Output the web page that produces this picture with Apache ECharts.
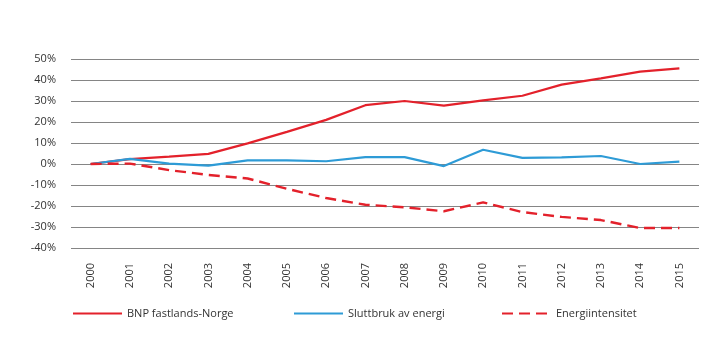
<!DOCTYPE html>
<html>
<head>
<meta charset="utf-8">
<script src="https://cdn.jsdelivr.net/npm/echarts@6/dist/echarts.min.js"></script>
<style>html,body{margin:0;padding:0;background:#fff}#c{width:720px;height:341px}</style>
</head>
<body>
<div id="c"></div>
<script>
const years = ['2000','2001','2002','2003','2004','2005','2006','2007','2008','2009','2010','2011','2012','2013','2014','2015'];
const bnp = [0, 2.3, 3.5, 4.8, 9.8, 15.3, 21, 28, 30, 27.8, 30.3, 32.5, 37.8, 40.8, 44, 45.5];
const sluttbruk = [0, 2.4, 0.2, -0.8, 1.7, 1.7, 1.3, 3.3, 3.3, -1, 6.8, 2.9, 3.2, 3.8, 0, 1.1];
const intensitet = [0, 0.2, -2.9, -5.2, -6.9, -11.8, -16.2, -19.4, -20.6, -22.5, -18.3, -22.9, -25.2, -26.7, -30.5, -30.5];
const yTicks = {min: -40, max: 50, interval: 10};

const FONT = "'Open Sans', sans-serif";
const RED = '#e3212b', BLUE = '#2e9bd6';
const chart = echarts.init(document.getElementById('c'), null, {renderer: 'canvas'});
const legendBase = {
  top: 308, itemWidth: 49, itemHeight: 14, padding: 0,
  itemStyle: {opacity: 0},
  textStyle: {fontFamily: FONT, fontSize: 11, color: '#333'}
};
chart.setOption({
  animation: false,
  grid: {left: 71, right: 21, top: 59, bottom: 93},
  legend: [
    Object.assign({left: 72, data: ['BNP fastlands-Norge']}, legendBase),
    Object.assign({left: 293, data: ['Sluttbruk av energi']}, legendBase),
    Object.assign({left: 501, data: ['Energiintensitet']}, legendBase)
  ],
  xAxis: {
    type: 'category', data: years, boundaryGap: true,
    axisLine: {show: false}, axisTick: {show: false},
    axisLabel: {rotate: 90, margin: 15, fontFamily: FONT, fontSize: 11, color: '#333', interval: 0}
  },
  yAxis: {
    type: 'value', min: yTicks.min, max: yTicks.max, interval: yTicks.interval,
    axisLine: {show: false}, axisTick: {show: false},
    axisLabel: {formatter: '{value}%', margin: 15, fontFamily: FONT, fontSize: 11, color: '#333'},
    splitLine: {lineStyle: {color: '#858585', width: 1}}
  },
  series: [
    {name: 'BNP fastlands-Norge', type: 'line', data: bnp, symbol: 'none',
     lineStyle: {color: RED, width: 2.2}, itemStyle: {color: RED}},
    {name: 'Sluttbruk av energi', type: 'line', data: sluttbruk, symbol: 'none',
     lineStyle: {color: BLUE, width: 2.2}, itemStyle: {color: BLUE}},
    {name: 'Energiintensitet', type: 'line', data: intensitet, symbol: 'none',
     lineStyle: {color: RED, width: 2.4, type: [11, 6]}, itemStyle: {color: RED}}
  ]
});
</script>
</body>
</html>
